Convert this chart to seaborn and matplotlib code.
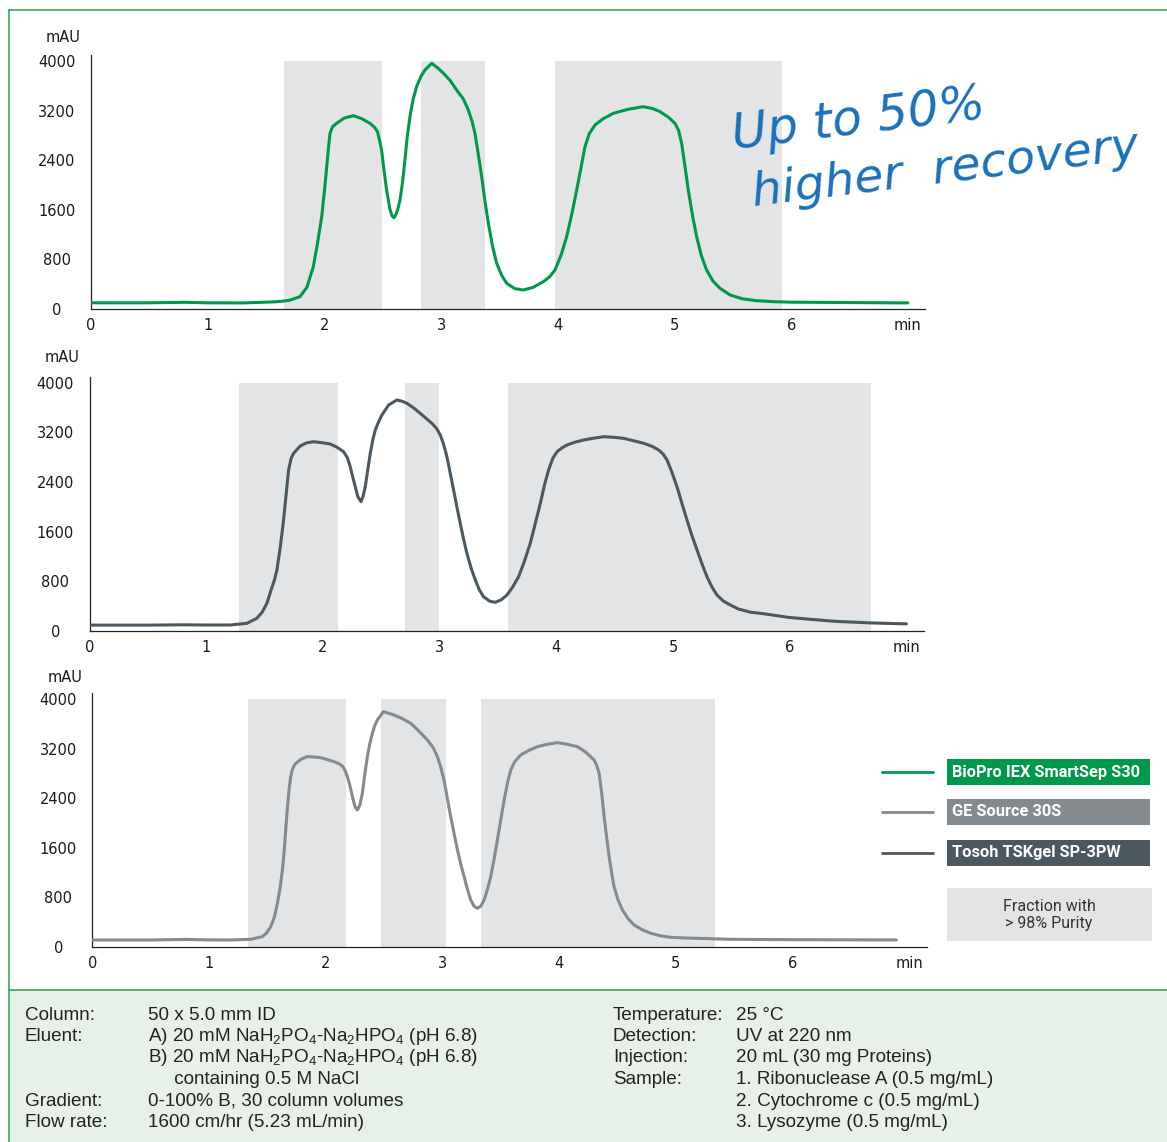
import matplotlib
matplotlib.use("Agg")
import matplotlib.pyplot as plt
import seaborn as sns
from matplotlib.patches import Rectangle
from matplotlib.lines import Line2D
from matplotlib.ticker import MultipleLocator, FuncFormatter

# ---- data (time in min, absorbance in mAU) ----
t_biopro = [0, 0.5, 0.8, 1.0, 1.3, 1.5, 1.6, 1.7, 1.79, 1.85, 1.905, 1.94, 1.977, 2.0, 2.02,
            2.035, 2.048, 2.07, 2.105, 2.17, 2.248, 2.32, 2.39, 2.43, 2.455, 2.475, 2.49,
            2.51, 2.533, 2.56, 2.58, 2.596, 2.615, 2.63, 2.648, 2.67, 2.69, 2.71, 2.733,
            2.76, 2.79, 2.83, 2.862, 2.92, 2.97, 3.02, 3.08, 3.133, 3.19, 3.233, 3.265,
            3.29, 3.32, 3.348, 3.375, 3.405, 3.44, 3.476, 3.52, 3.562, 3.63, 3.705, 3.79,
            3.876, 3.93, 3.976, 4.03, 4.076, 4.12, 4.162, 4.2, 4.233, 4.27, 4.319, 4.39,
            4.476, 4.6, 4.73, 4.81, 4.876, 4.95, 5.004, 5.035, 5.061, 5.09, 5.118, 5.155,
            5.19, 5.23, 5.275, 5.33, 5.39, 5.476, 5.58, 5.7, 5.85, 6.0, 6.5, 7.0]
mau_biopro = [100, 100, 108, 100, 98, 110, 118, 140, 198, 350, 682, 1050, 1489, 1900, 2295,
              2600, 2833, 2940, 2995, 3080, 3118, 3070, 2995, 2930, 2860, 2700, 2564,
              2250, 1919, 1620, 1500, 1473, 1530, 1620, 1758, 2050, 2403, 2780, 3102,
              3380, 3586, 3760, 3855, 3963, 3890, 3802, 3680, 3532, 3390, 3210, 3030,
              2833, 2480, 2134, 1750, 1382, 1020, 737, 540, 414, 330, 306, 350,
              441, 520, 629, 880, 1166, 1530, 1919, 2290, 2618, 2830, 2968, 3070,
              3156, 3220, 3263, 3235, 3183, 3090, 2995, 2880, 2672, 2300, 1919, 1500,
              1166, 860, 629, 450, 334, 226, 165, 135, 118, 110, 104, 98]

t_tosoh = [0, 0.5, 0.8, 1.0, 1.206, 1.349, 1.434, 1.48, 1.52, 1.56, 1.585, 1.606, 1.635,
           1.663, 1.685, 1.706, 1.728, 1.749, 1.806, 1.86, 1.92, 2.0, 2.063, 2.12, 2.177,
           2.21, 2.234, 2.257, 2.277, 2.3, 2.326, 2.345, 2.363, 2.385, 2.406, 2.428,
           2.449, 2.48, 2.506, 2.563, 2.634, 2.68, 2.72, 2.78, 2.834, 2.934, 2.975, 3.006,
           3.035, 3.063, 3.09, 3.12, 3.148, 3.177, 3.205, 3.234, 3.27, 3.306, 3.34, 3.377,
           3.43, 3.477, 3.53, 3.577, 3.625, 3.677, 3.725, 3.777, 3.82, 3.863, 3.9, 3.934,
           3.97, 4.006, 4.05, 4.091, 4.16, 4.234, 4.32, 4.406, 4.49, 4.577, 4.66, 4.749,
           4.82, 4.877, 4.915, 4.949, 4.99, 5.034, 5.077, 5.12, 5.163, 5.206, 5.25, 5.291,
           5.335, 5.377, 5.43, 5.491, 5.56, 5.66, 5.78, 5.99, 6.2, 6.4, 6.7, 7.0]
mau_tosoh = [90, 90, 95, 92, 92, 119, 200, 300, 441, 680, 820, 979, 1350,
             1785, 2200, 2592, 2780, 2861, 2979, 3030, 3048, 3030, 3011, 2960, 2887,
             2790, 2645, 2470, 2323, 2160, 2081, 2170, 2323, 2600, 2861, 3080,
             3237, 3380, 3479, 3640, 3721, 3700, 3667, 3590, 3506, 3345, 3260, 3156,
             3000, 2806, 2550, 2269, 2000, 1732, 1480, 1248, 1010, 818, 660, 548,
             475, 458, 500, 576, 700, 871, 1110, 1410, 1730, 2055, 2360, 2592,
             2780, 2887, 2950, 2995, 3040, 3076, 3105, 3129, 3120, 3102, 3065, 3022,
             2975, 2915, 2850, 2753, 2560, 2323, 2050, 1785, 1530, 1302, 1070, 871,
             700, 576, 480, 415, 350, 300, 273, 215, 180, 150, 125, 110]

t_ge = [0, 0.5, 0.8, 1.0, 1.186, 1.357, 1.457, 1.495, 1.529, 1.56, 1.586, 1.61, 1.629,
        1.645, 1.657, 1.672, 1.686, 1.698, 1.709, 1.725, 1.743, 1.79, 1.843, 1.9, 1.957,
        2.01, 2.071, 2.11, 2.143, 2.165, 2.186, 2.208, 2.229, 2.25, 2.271, 2.293, 2.314,
        2.335, 2.357, 2.378, 2.4, 2.42, 2.443, 2.494, 2.54, 2.586, 2.66, 2.729, 2.8,
        2.871, 2.92, 2.957, 2.986, 3.014, 3.042, 3.071, 3.1, 3.129, 3.157, 3.186, 3.215,
        3.243, 3.27, 3.3, 3.33, 3.357, 3.385, 3.414, 3.443, 3.471, 3.5, 3.529, 3.558,
        3.586, 3.62, 3.671, 3.74, 3.814, 3.9, 3.986, 4.07, 4.157, 4.23, 4.3, 4.322,
        4.343, 4.365, 4.386, 4.408, 4.429, 4.45, 4.471, 4.505, 4.543, 4.59, 4.643, 4.71,
        4.786, 4.87, 4.957, 5.07, 5.186, 5.33, 5.471, 5.8, 6.2, 6.6, 6.89]
mau_ge = [113, 113, 122, 115, 113, 124, 167, 230, 328, 480, 704, 960, 1242,
          1560, 1887, 2250, 2532, 2720, 2828, 2910, 2962, 3030, 3070, 3065, 3054,
          3025, 2989, 2960, 2919, 2850, 2747, 2600, 2424, 2270, 2210, 2290, 2478,
          2780, 3070, 3280, 3446, 3570, 3661, 3796, 3770, 3742, 3680, 3608, 3480,
          3339, 3220, 3070, 2900, 2694, 2400, 2102, 1830, 1565, 1340, 1134, 930,
          758, 660, 624, 660, 758, 920, 1134, 1420, 1726, 2050, 2371, 2650,
          2855, 2990, 3097, 3170, 3231, 3270, 3296, 3270, 3231, 3140, 3016, 2930,
          2801, 2480, 2102, 1760, 1457, 1200, 973, 760, 597, 460, 355, 280,
          221, 180, 156, 146, 140, 132, 124, 120, 117, 115, 114]

# collected fractions with > 98 % purity (start, end in min)
frac_biopro = [(1.65, 2.49), (2.83, 3.38), (3.98, 5.92)]
frac_tosoh = [(1.28, 2.13), (2.70, 2.995), (3.59, 6.70)]
frac_ge = [(1.33, 2.175), (2.475, 3.035), (3.33, 5.34)]

series_names = ["BioPro IEX SmartSep S30", "GE Source 30S", "Tosoh TSKgel SP-3PW"]
y_ticks = [0, 800, 1600, 2400, 3200, 4000]

GREEN = "#00984a"
TOSOH = "#4c5860"
GE = "#858a8f"
SHADE = "#e3e4e6"
FRAME = "#29a24f"

W, H = 1167, 1142

sns.set_style("white")
plt.rcParams["font.family"] = ["DejaVu Sans"]
plt.rcParams["mathtext.fontset"] = "custom"
plt.rcParams["mathtext.rm"] = "Liberation Sans"
plt.rcParams["mathtext.it"] = "Liberation Sans:italic"

fig = plt.figure(figsize=(W / 100, H / 100), dpi=100)


def px(x, y):
    return x / W, 1 - y / H


def x_fmt(v, pos):
    if abs(v - 7) < 1e-6:
        return "min"
    if abs(v - round(v)) < 1e-6:
        return f"{int(round(v))}"
    return ""


def draw_panel(left_px, zero_px, t, mau, fracs, color, mau_xy):
    ax = fig.add_axes([left_px / W, 1 - zero_px / H, 834.4 / W, 254.2 / H])
    for a, b in fracs:
        ax.axvspan(a, b, ymin=0, ymax=4000 / 4100, color=SHADE, lw=0, zorder=0)
    sns.lineplot(x=t, y=mau, ax=ax, color=color, linewidth=2.2, estimator=None,
                 sort=False, zorder=3)
    ax.set_xlim(0, 7.15)
    ax.set_ylim(0, 4100)
    ax.set_xlabel("")
    ax.set_ylabel("")
    ax.set_yticks(y_ticks)
    ax.yaxis.set_minor_locator(MultipleLocator(100))
    ax.xaxis.set_major_locator(MultipleLocator(0.5))
    ax.xaxis.set_minor_locator(MultipleLocator(0.125))
    ax.xaxis.set_major_formatter(FuncFormatter(x_fmt))
    ax.tick_params(axis="both", which="major", direction="out", length=4.5, width=0.9,
                   labelsize=10.5, colors="#1a1a1a")
    ax.tick_params(axis="both", which="minor", direction="out", length=2.5, width=0.6,
                   colors="#444444")
    ax.tick_params(axis="y", which="major", pad=20)
    ax.tick_params(axis="x", which="major", pad=2)
    for lbl in ax.get_yticklabels():
        lbl.set_horizontalalignment("center")
    for side in ["top", "right"]:
        ax.spines[side].set_visible(False)
    for side in ["left", "bottom"]:
        ax.spines[side].set_linewidth(0.9)
        ax.spines[side].set_color("#222222")
    ax.patch.set_alpha(0)
    fig.text(*px(*mau_xy), "mAU", ha="center", va="center", fontsize=10.5, color="#1a1a1a")
    return ax


# outer frame and info panel
fig.add_artist(Rectangle(px(9, 1142), (W - 9) / W, (1142 - 990) / H, transform=fig.transFigure,
                         facecolor="#e7f1e9", edgecolor="none", zorder=0))
fig.add_artist(Line2D([9 / W, 1], [1 - 10 / H] * 2, color=FRAME, lw=1.1))
fig.add_artist(Line2D([9 / W, 9 / W], [1 - 10 / H, 0], color=FRAME, lw=1.1))
fig.add_artist(Line2D([9 / W, 1], [1 - 990 / H] * 2, color=FRAME, lw=1.1))

draw_panel(91, 309, t_biopro, mau_biopro, frac_biopro, GREEN, (63, 38))
draw_panel(89.5, 630.7, t_tosoh, mau_tosoh, frac_tosoh, TOSOH, (62, 358))
draw_panel(92.3, 947, t_ge, mau_ge, frac_ge, GE, (65, 677))

# handwritten claim
fig.text(*px(858, 120), "Up to 50%", fontsize=35, style="italic", color="#1b70ba",
         ha="center", va="center", rotation=7)
fig.text(*px(946, 170), "higher  recovery", fontsize=34, style="italic", color="#1b70ba",
         ha="center", va="center", rotation=7)

# legend
legend_rows = [(series_names[0], GREEN, 772), (series_names[1], GE, 812),
               (series_names[2], TOSOH, 853)]
for name, col, yc in legend_rows:
    fig.add_artist(Line2D([882 / W, 933 / W], [1 - yc / H] * 2, color=col, lw=2))
    fig.add_artist(Rectangle(px(947, yc + 13), 203 / W, 26 / H, transform=fig.transFigure,
                             facecolor=col, edgecolor="none"))
    fig.text(*px(952, yc), name, fontsize=11.8, fontweight="bold", color="white",
             ha="left", va="center", family=["Roboto", "DejaVu Sans"])
fig.add_artist(Rectangle(px(947, 941), 205 / W, 53 / H, transform=fig.transFigure,
                         facecolor=SHADE, edgecolor="none"))
fig.text(*px(1049, 915), "Fraction with\n> 98% Purity", fontsize=11.5, color="#333333",
         ha="center", va="center", linespacing=1.1, family=["Roboto", "DejaVu Sans"])

# method conditions
info_left = [("Column:", "50 x 5.0 mm ID"),
             ("Eluent:", r"A) 20 mM NaH$_2$PO$_4$-Na$_2$HPO$_4$ (pH 6.8)"),
             ("", r"B) 20 mM NaH$_2$PO$_4$-Na$_2$HPO$_4$ (pH 6.8)"),
             ("", "     containing 0.5 M NaCl"),
             ("Gradient:", "0-100% B, 30 column volumes"),
             ("Flow rate:", "1600 cm/hr (5.23 mL/min)")]
info_right = [("Temperature:", "25 °C"),
              ("Detection:", "UV at 220 nm"),
              ("Injection:", "20 mL (30 mg Proteins)"),
              ("Sample:", "1. Ribonuclease A (0.5 mg/mL)"),
              ("", "2. Cytochrome c (0.5 mg/mL)"),
              ("", "3. Lysozyme (0.5 mg/mL)")]
row_y = [1015, 1036.5, 1058, 1079.5, 1101, 1122.5]
info_font = dict(fontsize=13.6, color="#222222", va="center", ha="left",
                 family=["Liberation Sans", "DejaVu Sans"])
for (lab, val), yy in zip(info_left, row_y):
    fig.text(*px(25, yy), lab, **info_font)
    fig.text(*px(148, yy), val, **info_font)
for (lab, val), yy in zip(info_right, row_y):
    fig.text(*px(613, yy), lab, **info_font)
    fig.text(*px(736, yy), val, **info_font)

fig.savefig("out.png", dpi=100)
